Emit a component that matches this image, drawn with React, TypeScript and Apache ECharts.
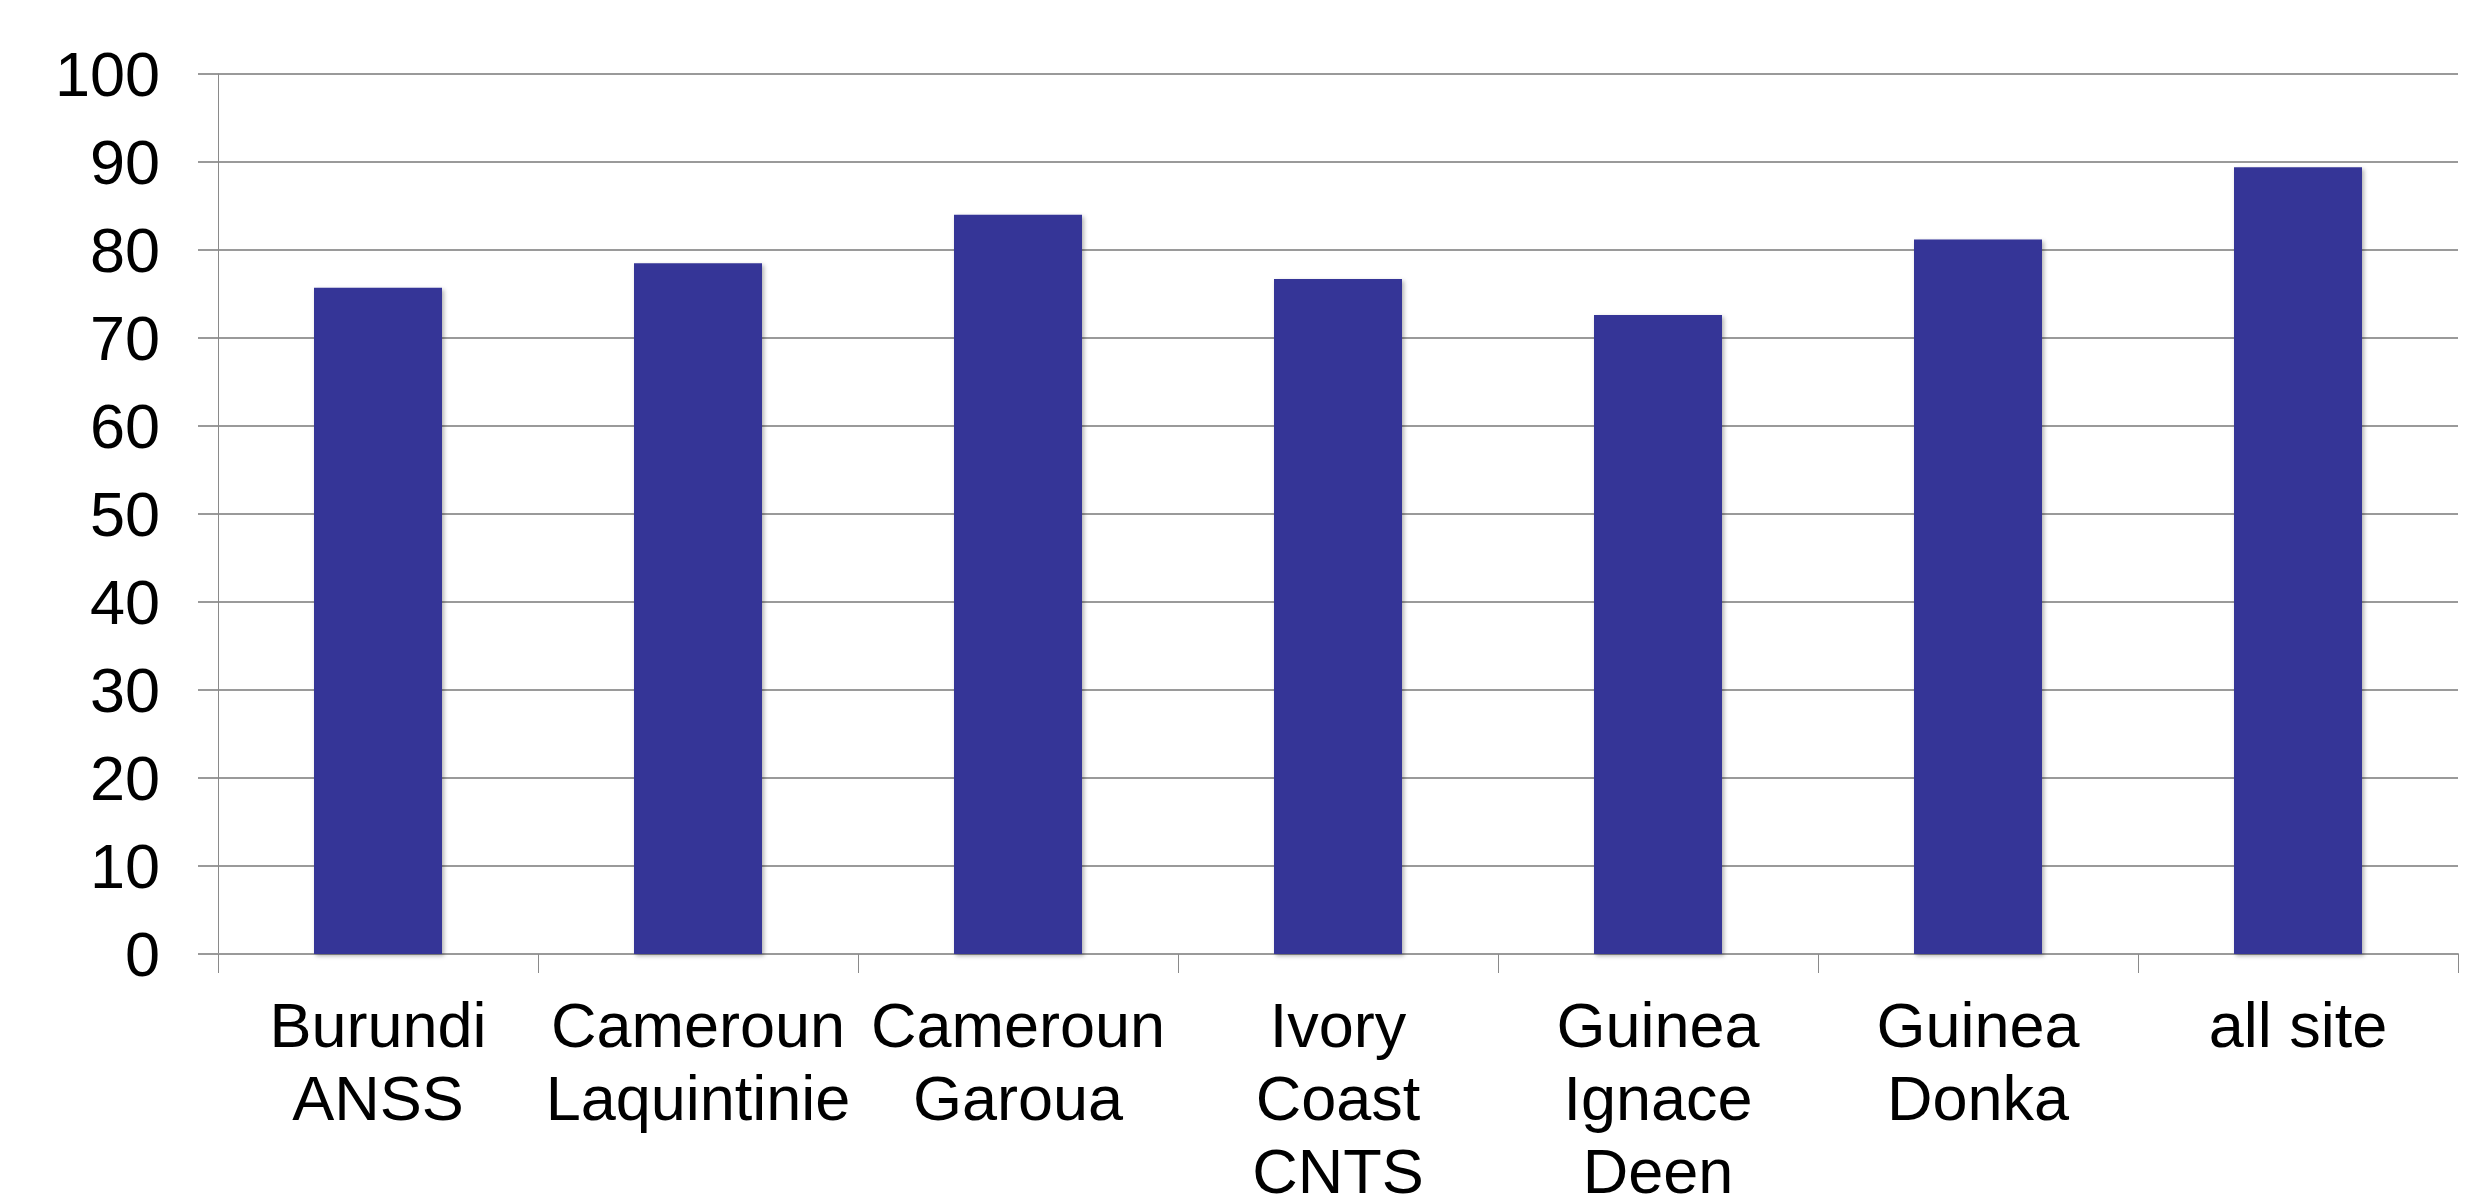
import React, { useEffect, useRef } from "react";
import * as echarts from "echarts";

const categories = [
  "Burundi\nANSS",
  "Cameroun\nLaquintinie",
  "Cameroun\nGaroua",
  "Ivory\nCoast\nCNTS",
  "Guinea\nIgnace\nDeen",
  "Guinea\nDonka",
  "all site",
];
const values = [75.7, 78.5, 84.0, 76.7, 72.6, 81.2, 89.4];
const yMin = 0;
const yMax = 100;
const yInterval = 10;

export default function App() {
  const ref = useRef<HTMLDivElement>(null);
  useEffect(() => {
    if (!ref.current) return;
    const chart = echarts.init(ref.current, null, { renderer: "svg" });
    const font = "'Liberation Sans', Arial, sans-serif";
    chart.setOption({
      animation: false,
      backgroundColor: "#ffffff",
      grid: {
        left: 218,
        right: 18,
        top: 74,
        bottom: 244,
        containLabel: false,
        outerBoundsMode: "none",
      },
      xAxis: {
        type: "category",
        data: categories,
        boundaryGap: true,
        axisLine: { show: true, lineStyle: { color: "#9a9a9a", width: 2 } },
        axisTick: {
          show: true,
          alignWithLabel: false,
          length: 19,
          lineStyle: { color: "#8a8a8a", width: 1 },
        },
        axisLabel: {
          interval: 0,
          margin: 34,
          color: "#000000",
          fontFamily: font,
          fontSize: 63,
          lineHeight: 73,
        },
      },
      yAxis: {
        type: "value",
        min: yMin,
        max: yMax,
        interval: yInterval,
        axisLine: { show: true, lineStyle: { color: "#8a8a8a", width: 1 } },
        axisTick: {
          show: true,
          length: 20,
          lineStyle: { color: "#9a9a9a", width: 2 },
        },
        splitLine: { show: true, lineStyle: { color: "#9a9a9a", width: 2 } },
        axisLabel: {
          margin: 58,
          color: "#000000",
          fontFamily: font,
          fontSize: 63,
        },
      },
      series: [
        {
          type: "bar",
          data: values,
          barCategoryGap: "60%",
          itemStyle: {
            color: "#343497",
            shadowColor: "rgba(0,0,0,0.3)",
            shadowBlur: 4,
            shadowOffsetX: 2,
            shadowOffsetY: 2,
          },
        },
      ],
    });
    return () => chart.dispose();
  }, []);
  return (
    <div
      ref={ref}
      style={{ position: "absolute", left: 0, top: 0, width: 2476, height: 1198 }}
    />
  );
}
